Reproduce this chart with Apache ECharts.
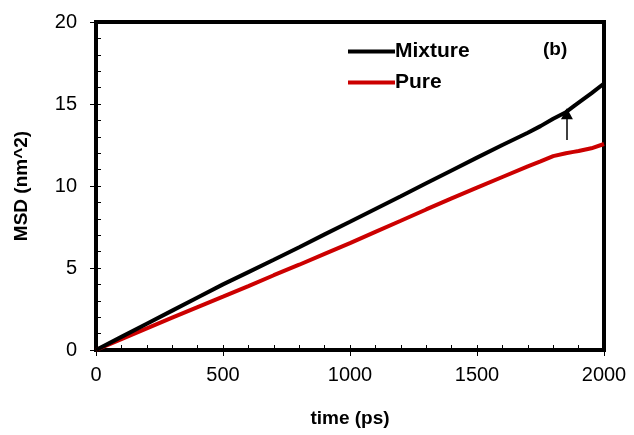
<!DOCTYPE html>
<html>
<head>
<meta charset="utf-8">
<script src="https://cdn.jsdelivr.net/npm/echarts@6/dist/echarts.min.js"></script>
<style>html,body{margin:0;padding:0;background:#fff;}#c{width:634px;height:435px;}</style>
</head>
<body>
<div id="c"></div>
<script>
var times = [0,100,200,300,400,500,600,700,800,900,1000,1100,1200,1300,1400,1500,1600,1700,1750,1800,1850,1880,1900,1950,2000];
var mixture = [0,0.8,1.6,2.4,3.2,4.0,4.75,5.5,6.27,7.05,7.82,8.6,9.38,10.17,10.95,11.73,12.5,13.25,13.65,14.1,14.5,14.85,15.08,15.65,16.25];
var pure = [0,0.66,1.32,1.97,2.61,3.25,3.9,4.56,5.2,5.86,6.52,7.2,7.88,8.57,9.25,9.9,10.55,11.2,11.5,11.82,12.0,12.08,12.13,12.3,12.56];
var xTicks = [0,500,1000,1500,2000];
var yTicks = [0,5,10,15,20];
var arrowX = 1854, arrowFrom = 12.8, arrowTo = 14.4;

var FONT = 'Liberation Sans, Arial, sans-serif';
function pairs(xs, ys){ return xs.map(function(x,i){ return [x, ys[i]]; }); }

var chart = echarts.init(document.getElementById('c'), null, {renderer:'canvas'});
chart.setOption({
  animation: false,
  backgroundColor: '#fff',
  grid: {left:96, right:30, top:22, bottom:85, show:true, borderColor:'#000', borderWidth:4, backgroundColor:'transparent'},
  legend: {
    data: ['Mixture','Pure'], orient:'vertical', left:343, top:36,
    icon:'rect', itemWidth:47, itemHeight:4, itemGap:10,
    textStyle:{fontFamily:FONT, fontSize:21, fontWeight:'bold', color:'#000', padding:[0,0,0,-5]}
  },
  graphic: [{type:'text', left:543, top:40, style:{text:'(b)', font:'bold 19px ' + FONT, fill:'#000'}}],
  xAxis: [{
    type:'value', min:xTicks[0], max:xTicks[xTicks.length-1], interval:500,
    name:'time (ps)', nameLocation:'middle', nameGap:59,
    nameTextStyle:{fontFamily:FONT, fontSize:19, fontWeight:'bold', color:'#000'},
    axisLine:{show:true, lineStyle:{color:'#000', width:4}},
    axisTick:{show:true, inside:false, length:6, lineStyle:{color:'#000', width:1}},
    axisLabel:{fontFamily:FONT, fontSize:20, color:'#000', margin:15, formatter:function(v){return String(v);}},
    splitLine:{show:false}
  },{
    type:'value', min:0, max:2000, interval:100, position:'bottom',
    axisLine:{show:false}, axisLabel:{show:false}, splitLine:{show:false},
    axisTick:{show:true, inside:true, length:5, lineStyle:{color:'#000', width:1}}
  }],
  yAxis: [{
    type:'value', min:yTicks[0], max:yTicks[yTicks.length-1], interval:5,
    name:'MSD (nm^2)', nameLocation:'middle', nameGap:65, nameRotate:90,
    nameTextStyle:{fontFamily:FONT, fontSize:19, fontWeight:'bold', color:'#000'},
    axisLine:{show:true, lineStyle:{color:'#000', width:4}},
    axisTick:{show:true, inside:false, length:6, lineStyle:{color:'#000', width:1}},
    axisLabel:{fontFamily:FONT, fontSize:20, color:'#000', margin:19},
    splitLine:{show:false}
  },{
    type:'value', min:0, max:20, interval:1, position:'left',
    axisLine:{show:false}, axisLabel:{show:false}, splitLine:{show:false},
    axisTick:{show:true, inside:true, length:5, lineStyle:{color:'#000', width:1}}
  }],
  series: [{
    name:'Mixture', type:'line', data:pairs(times, mixture), showSymbol:false, symbol:'none',
    color:'#000', lineStyle:{color:'#000', width:4}, z:3,
    markLine:{silent:true, symbol:['none','triangle'], symbolSize:[12,11], label:{show:false},
      lineStyle:{color:'#000', width:1.5, type:'solid'},
      data:[[{coord:[arrowX, arrowFrom]},{coord:[arrowX, arrowTo]}]]}
  },{
    name:'Pure', type:'line', data:pairs(times, pure), showSymbol:false, symbol:'none',
    color:'#cc0000', lineStyle:{color:'#cc0000', width:4}, z:2
  }]
});
</script>
</body>
</html>
